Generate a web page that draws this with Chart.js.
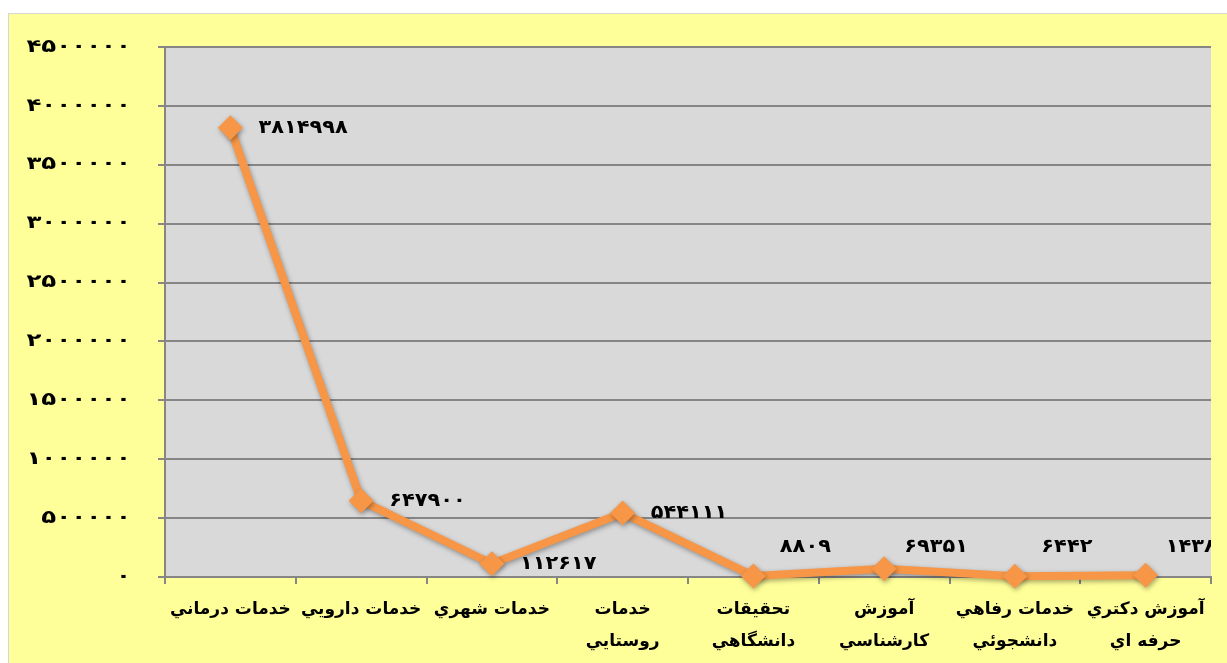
<!DOCTYPE html>
<html>
<head>
<meta charset="utf-8">
<script src="https://cdn.jsdelivr.net/npm/chart.js@4/dist/chart.umd.min.js"></script>
<style>
  html, body { margin: 0; padding: 0; background: #ffffff; }
  #wrap { position: absolute; left: 8px; top: 13px; width: 1219px; height: 650px;
          background: #FFFF99; border-top: 1px solid #D6D6D6; border-left: 1px solid #D6D6D6; box-sizing: border-box; }
  canvas { display: block; }
</style>
</head>
<body>
<div id="wrap"><canvas id="c" width="1218" height="649"></canvas></div>
<script>
const categories = [
  "خدمات درماني",
  "خدمات دارويي",
  "خدمات شهري",
  ["خدمات", "روستايي"],
  ["تحقيقات", "دانشگاهي"],
  ["آموزش", "كارشناسي"],
  ["خدمات رفاهي", "دانشجوئي"],
  ["آموزش دكتري", "حرفه اي"]
];
const values = [3814998, 647900, 112617, 544111, 8809, 69351, 6442, 14381];
const yTicks = [0, 500000, 1000000, 1500000, 2000000, 2500000, 3000000, 3500000, 4000000, 4500000];

const FA = '۰۱۲۳۴۵۶۷۸۹';
function toFa(n) { return String(n).replace(/\d/g, d => FA[+d]); }

const FONT = "'DejaVu Sans', sans-serif";

const plotBg = {
  id: 'plotBg',
  beforeDraw(chart) {
    const {ctx, chartArea: a} = chart;
    ctx.save();
    ctx.fillStyle = '#D9D9D9';
    ctx.fillRect(a.left, a.top, a.right - a.left, a.bottom - a.top);
    ctx.restore();
  }
};

// the reference's y tick digits are set wide: stretch them horizontally about their right edge
const yWide = {
  id: 'yWide',
  afterLayout(chart) {
    const s = chart.scales.y;
    if (s._patched) return;
    const orig = s.drawLabels;
    s.drawLabels = function (ca) {
      const ctx = this.ctx;
      const items = this.getLabelItems(ca);
      const xr = items.length ? items[0].options.translation[0] : this.right;
      ctx.save();
      ctx.translate(xr, 0);
      ctx.scale(1.36, 1);
      ctx.translate(-xr, 0);
      orig.call(this, ca);
      ctx.restore();
    };
    s._patched = true;
  }
};

const shadow = {
  id: 'shadow',
  beforeDatasetDraw(chart) {
    const ctx = chart.ctx;
    ctx.save();
    ctx.shadowColor = 'rgba(0,0,0,0.35)';
    ctx.shadowBlur = 5;
    ctx.shadowOffsetX = 1;
    ctx.shadowOffsetY = 2;
  },
  afterDatasetDraw(chart) { chart.ctx.restore(); }
};

const labels = {
  id: 'valLabels',
  afterDatasetsDraw(chart) {
    const {ctx, chartArea: a} = chart;
    const meta = chart.getDatasetMeta(0);
    ctx.save();
    ctx.beginPath();
    ctx.rect(a.left, a.top, a.right - a.left, a.bottom - a.top);
    ctx.clip();
    meta.data.forEach((pt, i) => {
      const low = a.bottom - pt.y < 10;
      ctx.save();
      ctx.font = "bold 19px " + FONT;
      ctx.fillStyle = '#000';
      ctx.textBaseline = 'middle';
      if (low) {
        ctx.textAlign = 'center';
        ctx.translate(pt.x + 52, a.bottom - 30);
      } else {
        ctx.textAlign = 'left';
        ctx.translate(pt.x + 28, pt.y);
      }
      ctx.scale(1.1, 1);
      ctx.fillText(toFa(values[i]), 0, 0);
      ctx.restore();
    });
    ctx.restore();
  }
};

new Chart(document.getElementById('c'), {
  type: 'line',
  data: {
    labels: categories,
    datasets: [{
      data: values,
      borderColor: '#F79646',
      backgroundColor: '#F79646',
      borderWidth: 8,
      pointStyle: 'rectRot',
      pointRadius: 12.5,
      pointHoverRadius: 12.5,
      pointBorderWidth: 0,
      pointBackgroundColor: '#F79646',
      tension: 0,
      clip: false
    }]
  },
  options: {
    responsive: false,
    animation: false,
    events: [],
    layout: { autoPadding: false, padding: { top: 33, right: 16, left: 0, bottom: 0 } },
    plugins: { legend: { display: false }, tooltip: { enabled: false } },
    scales: {
      x: {
        offset: true,
        grid: { offset: true, drawOnChartArea: false, drawTicks: true, tickLength: 7, color: '#868686', lineWidth: 2 },
        border: { color: '#868686', width: 2 },
        ticks: { color: '#000', font: { family: FONT, size: 17, weight: 'bold', lineHeight: 1.9 }, maxRotation: 0, autoSkip: false, padding: 9 },
        afterFit(s) { s.height = 86; }
      },
      y: {
        min: 0, max: 4500000,
        afterBuildTicks(s) { s.ticks = yTicks.map(v => ({ value: v })); },
        grid: { color: '#868686', lineWidth: 2, tickLength: 7 },
        border: { color: '#868686', width: 2 },
        ticks: { color: '#000', font: { family: FONT, size: 18, weight: 'bold' }, padding: 27, callback: v => toFa(v) },
        afterFit(s) { s.width = 156; s.paddingTop = 0; s.paddingBottom = 0; }
      }
    }
  },
  plugins: [plotBg, yWide, shadow, labels]
});
</script>
</body>
</html>
